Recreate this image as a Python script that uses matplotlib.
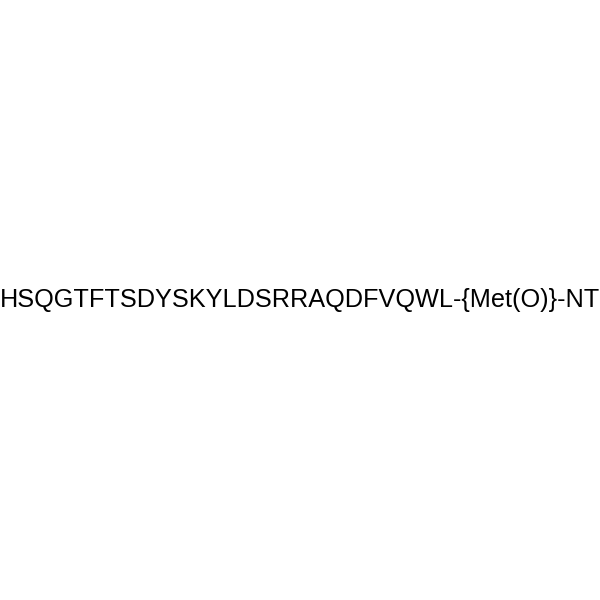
import matplotlib
matplotlib.use('Agg')
import matplotlib.pyplot as plt

label = 'HSQGTFTSDYSKYLDSRRAQDFVQWL-{Met(O)}-NT'

fig = plt.figure(figsize=(6, 6), dpi=100)
fig.patch.set_facecolor('white')
fig.text(0.5, 0.5, label, ha='center', va='center',
         fontsize=18.2, family=['Liberation Sans', 'DejaVu Sans'], color='black')
fig.savefig('out.png', dpi=100, facecolor='white')
